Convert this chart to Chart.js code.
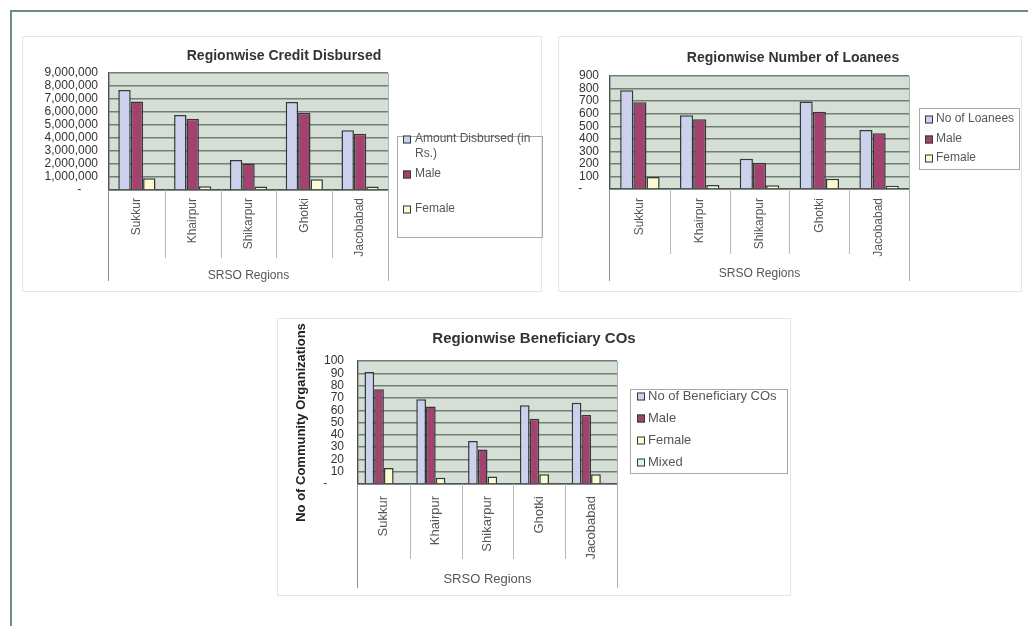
<!DOCTYPE html>
<html>
<head>
<meta charset="utf-8">
<script src="https://cdn.jsdelivr.net/npm/chart.js@4/dist/chart.umd.min.js"></script>
<style>
  html, body { margin: 0; padding: 0; background: #ffffff; }
  body { width: 1028px; height: 626px; position: relative; overflow: hidden; font-family: "Liberation Sans", Arial, sans-serif; }
  .frame-top { position: absolute; left: 10px; top: 10px; width: 1018px; height: 2px; background: #6e9079; }
  .frame-left { position: absolute; left: 10px; top: 10px; width: 2px; height: 616px; background: #6e9079; }
  .panel { position: absolute; border: 1px solid #e3e6e3; box-sizing: border-box; }
  .panel canvas { position: absolute; left: 0; top: 0; }
</style>
</head>
<body>
<div class="frame-top"></div>
<div class="frame-left"></div>
<div class="panel" style="left:22px;top:36px;width:520px;height:256px;"><canvas id="credit" width="520" height="256"></canvas></div>
<div class="panel" style="left:558px;top:36px;width:464px;height:256px;"><canvas id="loanees" width="464" height="256"></canvas></div>
<div class="panel" style="left:277px;top:318px;width:514px;height:278px;"><canvas id="cos" width="514" height="278"></canvas></div>

<script>
// ---- data ----
const regions = ['Sukkur', 'Khairpur', 'Shikarpur', 'Ghotki', 'Jacobabad'];

const creditTotal  = [7700000, 5760000, 2300000, 6770000, 4590000];
const creditMale   = [6800000, 5480000, 2030000, 5950000, 4320000];
const creditFemale = [900000, 280000, 270000, 820000, 270000];
const creditTickLabels = ['-     ', '1,000,000', '2,000,000', '3,000,000', '4,000,000',
  '5,000,000', '6,000,000', '7,000,000', '8,000,000', '9,000,000'];

const loaneesTotal  = [786, 588, 240, 697, 469];
const loaneesMale   = [690, 556, 210, 615, 444];
const loaneesFemale = [96, 32, 30, 82, 25];
const loaneesTickLabels = ['-     ', '100', '200', '300', '400', '500', '600', '700', '800', '900'];

const cosTotal  = [91, 69, 35, 64, 66];
const cosMale   = [77, 63, 28, 53, 56];
const cosFemale = [13, 5, 6, 8, 8];
const cosMixed  = [0, 0, 0, 1, 1];
const cosTickLabels = ['-     ', '10', '20', '30', '40', '50', '60', '70', '80', '90', '100'];

// ---- styling ----
const FONT = '"Liberation Sans", Arial, sans-serif';
const ink = '#333333';
const soft = '#565656';
const barEdge = '#2f3d3a';
const plotFill = '#d6dfd5';
const gridInk = '#707e76';
const fillTotal = '#cdd1ee';
const fillMale = '#a3426e';
const fillFemale = '#fdf9d0';
const fillMixed = '#d2f4f3';

// plot background, heading, category separators, axis drops and the boxed legend
const decor = {
  id: 'decor',
  beforeDraw(chart, args, o) {
    const { ctx, chartArea: a } = chart;
    ctx.save();
    ctx.fillStyle = plotFill;
    ctx.fillRect(a.left, a.top, a.right - a.left, a.bottom - a.top);
    ctx.restore();
  },
  afterDraw(chart, args, o) {
    const { ctx, chartArea: a } = chart;
    const x = chart.scales.x;
    const n = chart.data.labels.length;
    const step = x.getPixelForValue(1) - x.getPixelForValue(0);
    const seg = (x1, y1, x2, y2) => { ctx.beginPath(); ctx.moveTo(x1, y1); ctx.lineTo(x2, y2); ctx.stroke(); };
    ctx.save();

    ctx.font = 'bold ' + o.heading.size + 'px ' + FONT;
    ctx.fillStyle = ink;
    ctx.textAlign = 'center';
    ctx.textBaseline = 'middle';
    ctx.fillText(o.heading.text, o.heading.x, o.heading.y);

    ctx.lineWidth = 1;
    ctx.strokeStyle = '#b4bab6';
    for (let i = 1; i < n; i++) {
      const px = Math.round(x.getPixelForValue(i) - step / 2) + 0.5;
      seg(px, a.bottom, px, o.sepBottom);
    }
    ctx.strokeStyle = '#aab3ae';
    seg(Math.round(a.right) + 0.5, a.top, Math.round(a.right) + 0.5, o.dropBottom);
    ctx.strokeStyle = '#8d948f';
    seg(Math.round(a.left) - 0.5, a.bottom, Math.round(a.left) - 0.5, o.dropBottom);

    const lg = o.legend;
    ctx.strokeStyle = '#a7aaa7';
    ctx.strokeRect(lg.x + 0.5, lg.y + 0.5, lg.w, lg.h);
    ctx.font = lg.size + 'px ' + FONT;
    ctx.textBaseline = 'middle';
    ctx.textAlign = 'left';
    chart.data.datasets.forEach((ds, i) => {
      const y = lg.rows[i];
      ctx.fillStyle = ds.backgroundColor;
      ctx.fillRect(lg.markX, y - 3.5, 8, 8);
      ctx.strokeStyle = barEdge;
      ctx.strokeRect(lg.markX + 0.5, y - 3, 7, 7);
      // simple word wrap inside the legend
      const words = ds.label.split(' ');
      const lines = [];
      let cur = '';
      words.forEach(w => {
        const t = cur ? cur + ' ' + w : w;
        if (cur && ctx.measureText(t).width > lg.maxText) { lines.push(cur); cur = w; } else { cur = t; }
      });
      lines.push(cur);
      ctx.fillStyle = soft;
      lines.forEach((t, k) => ctx.fillText(t, lg.textX, y + k * lg.lineGap));
    });
    ctx.restore();
  }
};

function bars(label, data, color, cat) {
  return { label, data, backgroundColor: color, borderColor: barEdge, borderWidth: 1.5,
           categoryPercentage: cat, barPercentage: 1 };
}

function makeChart(id, g, datasets, yMax, yStep, tickLabels) {
  const xLh = g.xSize * 1.2;
  const xAxisBottom = g.xTitleY + xLh / 2;
  const padLeft = g.yTitle ? g.yTitleX - g.yTitleSize * 1.2 / 2 : g.padLeft;
  const yAxisW = g.plot.l - padLeft;
  return new Chart(document.getElementById(id), {
    type: 'bar',
    data: { labels: regions, datasets },
    plugins: [decor],
    options: {
      responsive: false,
      animation: false,
      layout: { padding: { left: padLeft, right: g.w - g.plot.r, top: g.plot.t, bottom: g.h - xAxisBottom } },
      plugins: {
        legend: { display: false },
        tooltip: { enabled: false },
        title: { display: false },
        decor: { heading: { text: g.title, size: g.titleSize, x: g.titleX, y: g.titleY },
                 sepBottom: g.sepBottom, dropBottom: g.dropBottom, legend: g.legend }
      },
      scales: {
        x: {
          grid: { display: false, offset: true, drawTicks: false },
          border: { display: true, color: '#4f5651', width: 1.5 },
          ticks: { color: soft, font: { family: FONT, size: g.xSize }, minRotation: 90, maxRotation: 90,
                   autoSkip: false, padding: g.labelGap },
          title: { display: true, text: 'SRSO Regions', color: soft, font: { family: FONT, size: g.xSize }, padding: 0 },
          afterFit(s) { s.height = xAxisBottom - g.plot.b; }
        },
        y: {
          min: 0, max: yMax,
          grid: { color: gridInk, lineWidth: 1.4, drawTicks: false },
          border: { display: true, color: '#4c524e', width: 1.4 },
          ticks: { stepSize: yStep, autoSkip: false, color: ink, font: { family: FONT, size: g.ySize }, padding: g.yPad,
                   callback: (v) => tickLabels[Math.round(v / yStep)] },
          title: g.yTitle ? { display: true, text: g.yTitle, color: '#222222',
                   font: { family: FONT, size: g.yTitleSize, weight: 'bold' }, padding: 0 } : { display: false },
          afterFit(s) { s.width = yAxisW; }
        }
      }
    }
  });
}

makeChart('credit', {
  w: 520, h: 256, plot: { l: 86, t: 36, r: 365, b: 153 }, padLeft: 10,
  title: 'Regionwise Credit Disbursed', titleSize: 14, titleX: 261, titleY: 19,
  xSize: 12, ySize: 12, yPad: 11, labelGap: 8,
  sepBottom: 221, xTitleY: 239, dropBottom: 244,
  legend: { x: 374, y: 99, w: 145, h: 101, markX: 380, textX: 392, size: 12, maxText: 124, lineGap: 15, rows: [102, 137, 172] }
}, [
  bars('Amount Disbursed (in Rs.)', creditTotal, fillTotal, 0.667),
  bars('Male', creditMale, fillMale, 0.667),
  bars('Female', creditFemale, fillFemale, 0.667)
], 9000000, 1000000, creditTickLabels);

makeChart('loanees', {
  w: 464, h: 256, plot: { l: 51, t: 39, r: 350, b: 152 }, padLeft: 4,
  title: 'Regionwise Number of Loanees', titleSize: 14, titleX: 234, titleY: 21,
  xSize: 12, ySize: 12, yPad: 11, labelGap: 9,
  sepBottom: 217, xTitleY: 237, dropBottom: 244,
  legend: { x: 360, y: 71, w: 100, h: 61, markX: 366, textX: 377, size: 12, maxText: 200, lineGap: 15, rows: [82, 102, 121] }
}, [
  bars('No of Loanees', loaneesTotal, fillTotal, 0.66),
  bars('Male', loaneesMale, fillMale, 0.66),
  bars('Female', loaneesFemale, fillFemale, 0.66)
], 900, 100, loaneesTickLabels);

makeChart('cos', {
  w: 514, h: 278, plot: { l: 80, t: 42, r: 339, b: 165 },
  yTitle: 'No of Community Organizations', yTitleX: 23, yTitleSize: 13,
  title: 'Regionwise Beneficiary COs', titleSize: 15, titleX: 256, titleY: 20,
  xSize: 13, ySize: 12, yPad: 14, labelGap: 12,
  sepBottom: 240, xTitleY: 260, dropBottom: 269,
  legend: { x: 352, y: 70, w: 157, h: 84, markX: 359, textX: 370, size: 13, maxText: 200, lineGap: 15, rows: [77, 99, 121, 143] }
}, [
  bars('No of Beneficiary COs', cosTotal, fillTotal, 0.75),
  bars('Male', cosMale, fillMale, 0.75),
  bars('Female', cosFemale, fillFemale, 0.75),
  bars('Mixed', cosMixed, fillMixed, 0.75)
], 100, 10, cosTickLabels);
</script>
</body>
</html>
